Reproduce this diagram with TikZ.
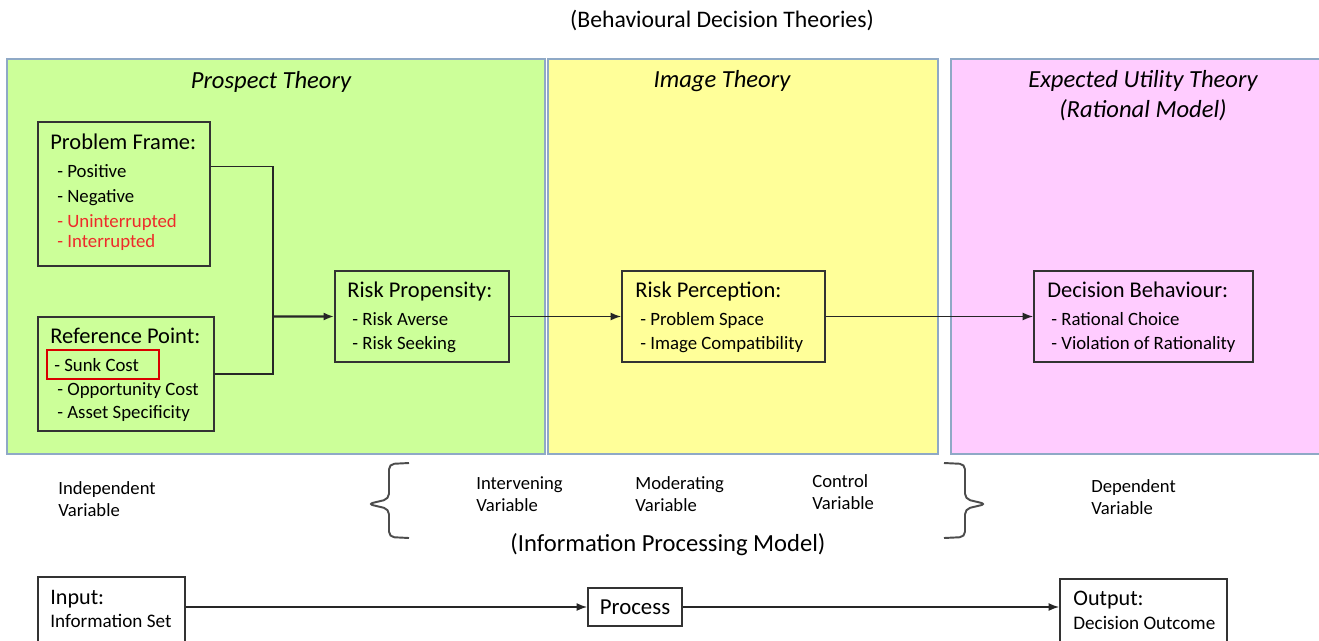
\documentclass[tikz,border=0pt]{standalone}
\usepackage{fontspec}
\setmainfont{Carlito}
\usetikzlibrary{arrows.meta,fit,calc}

\definecolor{prospectfill}{HTML}{CCFF99}
\definecolor{imagefill}{HTML}{FFFF99}
\definecolor{utilityfill}{HTML}{FFCCFF}
\definecolor{panelline}{HTML}{8FA9C6}
\definecolor{redtext}{HTML}{EE2A2A}
\definecolor{boxline}{HTML}{333333}

\begin{document}
\begin{tikzpicture}[x=0.02cm, y=-0.02cm]
        \tikzstyle{panel} = [draw=panelline, line width=1.2pt, inner sep=0pt]
        \tikzstyle{box} = [draw=boxline, line width=0.9pt, inner sep=0pt]
        \tikzstyle{head} = [anchor=base west, inner sep=0pt, font=\fontsize{12.8}{14}\selectfont]
        \tikzstyle{item} = [anchor=base west, inner sep=0pt, font=\fontsize{10.7}{12}\selectfont]
        \tikzstyle{theory} = [inner sep=0pt, align=center, font=\fontsize{14}{17}\selectfont\itshape]
        \tikzstyle{vartype} = [anchor=west, inner sep=0pt, align=left, font=\fontsize{10.6}{12.5}\selectfont]
        \tikzstyle{link} = [draw=black!85, line width=0.9pt]
        \tikzstyle{flow} = [link, -{Latex[length=6pt,width=4.5pt]}]
        \tikzstyle{curly} = [draw=black!70, line width=1.1pt, rounded corners=3pt]

        \clip (0,0) rectangle (1319,640);
        \fill[white] (0,0) rectangle (1319,640);

        \node (theories) [font=\fontsize{13.5}{16}\selectfont] at (722,20) {(Behavioural Decision Theories)};

        % the three theory panels
        \node (prospect) [panel, fill=prospectfill, fit={(7,59) (545,454)}] {};
        \node (image) [panel, fill=imagefill, fit={(548,59) (938,454)}] {};
        \node (utility) [panel, fill=utilityfill, fit={(951,59) (1325,454)}] {};

        \node (prospecttitle) [theory] at (271,82) {Prospect Theory};
        \node (imagetitle) [theory] at (722,81) {Image Theory};
        \node (utilitytitle) [theory] at (1143,96) {Expected Utility Theory\\(Rational Model)};

        % variable boxes
        \node (frame) [box, fit={(38,122) (210,266)}] {};
        \node (refpoint) [box, fit={(38,317) (214,431)}] {};
        \node (sunk) [draw=red!85!black, line width=0.6pt, inner sep=0pt, fit={(47,350) (159,379)}] {};
        \node (propensity) [box, fit={(335,271) (509,362)}] {};
        \node (perception) [box, fit={(622,271) (825,362)}] {};
        \node (behaviour) [box, fit={(1034,271) (1253,362)}] {};

        \node (framehead) [head] at (50,149) {Problem Frame:};
        \node (positive) [item] at (57,177) {- Positive};
        \node (negative) [item] at (57,202) {- Negative};
        \node (uninterrupted) [item, text=redtext] at (57,227) {- Uninterrupted};
        \node (interrupted) [item, text=redtext] at (57,247) {- Interrupted};

        \node (refhead) [head] at (50,343) {Reference Point:};
        \node (sunkcost) [item] at (54,371) {- Sunk Cost};
        \node (opportunity) [item] at (57,395) {- Opportunity Cost};
        \node (asset) [item] at (57,418) {- Asset Specificity};

        \node (propensityhead) [head] at (347,297) {Risk Propensity:};
        \node (averse) [item] at (352,325) {- Risk Averse};
        \node (seeking) [item] at (352,349) {- Risk Seeking};

        \node (perceptionhead) [head] at (635,297) {Risk Perception:};
        \node (space) [item] at (640,325) {- Problem Space};
        \node (compat) [item] at (640,349) {- Image Compatibility};

        \node (behaviourhead) [head] at (1047,297) {Decision Behaviour:};
        \node (rational) [item] at (1051,325) {- Rational Choice};
        \node (violation) [item] at (1051,349) {- Violation of Rationality};

        % connectors
        \coordinate (merge) at (273,316.5);
        \draw[link] ($(frame.north east)!0.31!(frame.south east)$) -| (merge);
        \draw[link] (refpoint.east) -| (merge);
        \draw[flow, line width=1.2pt] (merge) -- (propensity.west);
        \draw[flow] (propensity.east) -- (perception.west);
        \draw[flow] (perception.east) -- (behaviour.west);

        % variable types
        \node (independent) [vartype] at (58,499) {Independent\\Variable};
        \node (intervening) [vartype] at (476,494) {Intervening\\Variable};
        \node (moderating) [vartype] at (635,494) {Moderating\\Variable};
        \node (control) [vartype] at (812,492) {Control\\Variable};
        \node (dependent) [vartype] at (1091,497) {Dependent\\Variable};

        \draw[curly] (409,463) -- (389,464) -- (389,499) -- (368,504) -- (389,509) -- (389,537) -- (409,538);
        \draw[curly] (944,463) -- (965,464) -- (965,499) -- (986,504) -- (965,509) -- (965,537) -- (944,538);

        \node (ipm) [font=\fontsize{14}{16}\selectfont] at (668,545) {(Information Processing Model)};

        % input - process - output
        \node (input) [box, fit={(38,577) (185,680)}] {};
        \node (process) [box, fit={(588,588) (682,626)}] {};
        \node (output) [box, fit={(1060,579) (1227,680)}] {};

        \node (inputhead) [head, font=\fontsize{12.6}{14}\selectfont] at (50,604) {Input:};
        \node (infoset) [item, font=\fontsize{10.9}{12}\selectfont] at (50,627) {Information Set};
        \node (processlabel) [font=\fontsize{13}{15}\selectfont] at (process) {Process};
        \node (outputhead) [head, font=\fontsize{12.6}{14}\selectfont] at (1073,605) {Output:};
        \node (outcome) [item, font=\fontsize{10.9}{12}\selectfont] at (1073,629) {Decision Outcome};

        \draw[flow] (input.east |- process.west) -- (process.west);
        \draw[flow] (process.east) -- (output.west |- process.east);
    \end{tikzpicture}
\end{document}
